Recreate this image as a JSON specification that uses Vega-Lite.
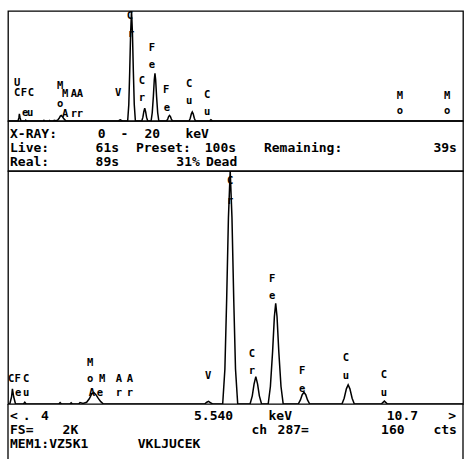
{
  "$schema": "https://vega.github.io/schema/vega-lite/v6.json",
  "background": "white",
  "padding": {"left": 7, "top": 10, "right": 3, "bottom": 0},
  "spacing": 0,
  "bounds": "flush",
  "config": {
    "view": {"stroke": "black", "strokeWidth": 1.3},
    "axis": {"disable": true},
    "concat": {"spacing": 0}
  },
  "datasets": {
    "spectrum": [
      {"e": 0, "c": 0}, {"e": 0.44, "c": 0}, {"e": 0.48, "c": 60}, {"e": 0.5, "c": 130}, {"e": 0.53, "c": 60}, {"e": 0.57, "c": 0},
      {"e": 0.75, "c": 0}, {"e": 0.78, "c": 15}, {"e": 0.81, "c": 0},
      {"e": 1.55, "c": 0}, {"e": 1.58, "c": 12}, {"e": 1.61, "c": 0},
      {"e": 1.8, "c": 0}, {"e": 1.83, "c": 10}, {"e": 1.86, "c": 0},
      {"e": 2.0, "c": 0}, {"e": 2.03, "c": 12}, {"e": 2.1, "c": 5}, {"e": 2.18, "c": 15}, {"e": 2.24, "c": 45}, {"e": 2.3, "c": 90}, {"e": 2.34, "c": 100}, {"e": 2.39, "c": 80}, {"e": 2.44, "c": 50}, {"e": 2.5, "c": 20}, {"e": 2.56, "c": 0},
      {"e": 4.85, "c": 0}, {"e": 4.9, "c": 15}, {"e": 4.94, "c": 22}, {"e": 4.98, "c": 12}, {"e": 5.03, "c": 0},
      {"e": 5.26, "c": 0}, {"e": 5.31, "c": 300}, {"e": 5.35, "c": 900}, {"e": 5.39, "c": 1600}, {"e": 5.43, "c": 2000}, {"e": 5.47, "c": 1600}, {"e": 5.51, "c": 900}, {"e": 5.55, "c": 300}, {"e": 5.6, "c": 0},
      {"e": 5.88, "c": 0}, {"e": 5.93, "c": 70}, {"e": 5.97, "c": 170}, {"e": 6.01, "c": 235}, {"e": 6.05, "c": 170}, {"e": 6.09, "c": 70}, {"e": 6.14, "c": 0},
      {"e": 6.29, "c": 0}, {"e": 6.34, "c": 150}, {"e": 6.39, "c": 450}, {"e": 6.43, "c": 750}, {"e": 6.46, "c": 865}, {"e": 6.49, "c": 750}, {"e": 6.53, "c": 450}, {"e": 6.58, "c": 150}, {"e": 6.63, "c": 0},
      {"e": 6.97, "c": 0}, {"e": 7.02, "c": 35}, {"e": 7.06, "c": 80}, {"e": 7.1, "c": 100}, {"e": 7.14, "c": 80}, {"e": 7.18, "c": 35}, {"e": 7.23, "c": 0},
      {"e": 7.96, "c": 0}, {"e": 8.01, "c": 50}, {"e": 8.06, "c": 130}, {"e": 8.1, "c": 165}, {"e": 8.14, "c": 130}, {"e": 8.19, "c": 50}, {"e": 8.24, "c": 0},
      {"e": 8.85, "c": 0}, {"e": 8.92, "c": 25}, {"e": 8.99, "c": 0},
      {"e": 20, "c": 0}
    ],
    "topLabels": [
      {"e": 0.40, "c": 700, "t": "U"}, {"e": 0.40, "c": 509, "t": "C"}, {"e": 0.70, "c": 509, "t": "F"}, {"e": 1.01, "c": 509, "t": "C"},
      {"e": 0.75, "c": 145, "t": "e"}, {"e": 0.97, "c": 145, "t": "u"},
      {"e": 2.29, "c": 636, "t": "M"}, {"e": 2.51, "c": 491, "t": "M"}, {"e": 2.29, "c": 309, "t": "o"}, {"e": 2.51, "c": 127, "t": "A"},
      {"e": 2.90, "c": 491, "t": "A"}, {"e": 3.16, "c": 491, "t": "A"}, {"e": 2.90, "c": 127, "t": "r"}, {"e": 3.16, "c": 127, "t": "r"},
      {"e": 4.84, "c": 509, "t": "V"},
      {"e": 5.36, "c": 1910, "t": "C"}, {"e": 5.41, "c": 1582, "t": "r"},
      {"e": 5.89, "c": 727, "t": "C"}, {"e": 5.89, "c": 418, "t": "r"},
      {"e": 6.33, "c": 1327, "t": "F"}, {"e": 6.33, "c": 1018, "t": "e"},
      {"e": 6.95, "c": 564, "t": "F"}, {"e": 6.99, "c": 236, "t": "e"},
      {"e": 7.96, "c": 673, "t": "C"}, {"e": 7.96, "c": 364, "t": "u"},
      {"e": 8.75, "c": 473, "t": "C"}, {"e": 8.75, "c": 164, "t": "u"},
      {"e": 17.23, "c": 455, "t": "M"}, {"e": 17.23, "c": 182, "t": "o"},
      {"e": 19.30, "c": 455, "t": "M"}, {"e": 19.30, "c": 182, "t": "o"}
    ],
    "lowLabels": [
      {"e": 0.47, "c": 215, "t": "C"}, {"e": 0.62, "c": 215, "t": "F"}, {"e": 0.81, "c": 215, "t": "C"},
      {"e": 0.63, "c": 94, "t": "e"}, {"e": 0.81, "c": 94, "t": "u"},
      {"e": 2.26, "c": 352, "t": "M"}, {"e": 2.26, "c": 215, "t": "o"}, {"e": 2.53, "c": 215, "t": "M"},
      {"e": 2.30, "c": 94, "t": "A"}, {"e": 2.48, "c": 94, "t": "e"},
      {"e": 2.91, "c": 215, "t": "A"}, {"e": 2.91, "c": 94, "t": "r"}, {"e": 3.16, "c": 215, "t": "A"}, {"e": 3.16, "c": 94, "t": "r"},
      {"e": 4.93, "c": 240, "t": "V"},
      {"e": 5.43, "c": 1914, "t": "C"}, {"e": 5.43, "c": 1743, "t": "r"},
      {"e": 5.92, "c": 429, "t": "C"}, {"e": 5.92, "c": 283, "t": "r"},
      {"e": 6.38, "c": 1073, "t": "F"}, {"e": 6.38, "c": 927, "t": "e"},
      {"e": 7.06, "c": 283, "t": "F"}, {"e": 7.06, "c": 129, "t": "e"},
      {"e": 8.05, "c": 395, "t": "C"}, {"e": 8.05, "c": 240, "t": "u"},
      {"e": 8.91, "c": 249, "t": "C"}, {"e": 8.91, "c": 94, "t": "u"}
    ],
    "info": [
      {"col": 0.18, "row": 1, "t": "X-RAY:"}, {"col": 7.9, "row": 1, "t": "0"}, {"col": 9.9, "row": 1, "t": "-"}, {"col": 12.0, "row": 1, "t": "20"}, {"col": 15.6, "row": 1, "t": "keV"},
      {"col": 0.18, "row": 2, "t": "Live:"}, {"col": 7.7, "row": 2, "t": "61s"}, {"col": 11.25, "row": 2, "t": "Preset:"}, {"col": 17.3, "row": 2, "t": "100s"}, {"col": 22.5, "row": 2, "t": "Remaining:"}, {"col": 37.4, "row": 2, "t": "39s"},
      {"col": 0.18, "row": 3, "t": "Real:"}, {"col": 7.7, "row": 3, "t": "89s"}, {"col": 14.8, "row": 3, "t": "31%"}, {"col": 17.4, "row": 3, "t": "Dead"}
    ],
    "footer": [
      {"col": 0.18, "row": 1, "t": "<"}, {"col": 1.3, "row": 1, "t": "."}, {"col": 2.9, "row": 1, "t": "4"}, {"col": 16.35, "row": 1, "t": "5.540"}, {"col": 22.9, "row": 1, "t": "keV"}, {"col": 33.3, "row": 1, "t": "10.7"}, {"col": 38.7, "row": 1, "t": ">"},
      {"col": 0.18, "row": 2, "t": "FS="}, {"col": 4.8, "row": 2, "t": "2K"}, {"col": 21.4, "row": 2, "t": "ch"}, {"col": 23.7, "row": 2, "t": "287="}, {"col": 32.8, "row": 2, "t": "160"}, {"col": 37.4, "row": 2, "t": "cts"},
      {"col": 0.18, "row": 3, "t": "MEM1:VZ5K1"}, {"col": 11.4, "row": 3, "t": "VKLJUCEK"}
    ],
    "edges": [{"col": 0}, {"col": 40}]
  },
  "vconcat": [
    {
      "width": 455, "height": 110,
      "layer": [
        {
          "data": {"name": "spectrum"},
          "mark": {"type": "line", "color": "black", "strokeWidth": 1.5, "clip": true},
          "encoding": {
            "x": {"field": "e", "type": "quantitative", "scale": {"domain": [0, 20], "nice": false}},
            "y": {"field": "c", "type": "quantitative", "scale": {"domain": [0, 2000], "nice": false}}
          }
        },
        {
          "data": {"name": "topLabels"},
          "mark": {"type": "text", "font": "DejaVu Sans Mono", "fontSize": 10.5, "fontWeight": "bold", "color": "black", "align": "center", "baseline": "middle", "clip": true},
          "encoding": {
            "x": {"field": "e", "type": "quantitative", "scale": {"domain": [0, 20], "nice": false}},
            "y": {"field": "c", "type": "quantitative", "scale": {"domain": [0, 2000], "nice": false}},
            "text": {"field": "t"}
          }
        }
      ]
    },
    {
      "width": 455, "height": 50,
      "data": {"name": "info"},
      "mark": {"type": "text", "font": "DejaVu Sans Mono", "fontSize": 13, "fontWeight": "bold", "color": "black", "align": "left", "baseline": "middle", "clip": true},
      "encoding": {
        "x": {"field": "col", "type": "quantitative", "scale": {"domain": [0, 40], "nice": false}},
        "y": {"field": "row", "type": "quantitative", "scale": {"domain": [0.071, 3.643], "reverse": true, "nice": false, "zero": false}},
        "text": {"field": "t"}
      }
    },
    {
      "width": 455, "height": 233,
      "layer": [
        {
          "data": {"name": "spectrum"},
          "mark": {"type": "line", "color": "black", "strokeWidth": 1.5, "clip": true},
          "encoding": {
            "x": {"field": "e", "type": "quantitative", "scale": {"domain": [0.4, 10.7], "nice": false, "zero": false}},
            "y": {"field": "c", "type": "quantitative", "scale": {"domain": [0, 2000], "nice": false}}
          }
        },
        {
          "data": {"name": "lowLabels"},
          "mark": {"type": "text", "font": "DejaVu Sans Mono", "fontSize": 10.5, "fontWeight": "bold", "color": "black", "align": "center", "baseline": "middle", "clip": true},
          "encoding": {
            "x": {"field": "e", "type": "quantitative", "scale": {"domain": [0.4, 10.7], "nice": false, "zero": false}},
            "y": {"field": "c", "type": "quantitative", "scale": {"domain": [0, 2000], "nice": false}},
            "text": {"field": "t"}
          }
        }
      ]
    },
    {
      "width": 455, "height": 55,
      "view": {"stroke": null},
      "layer": [
        {
          "data": {"name": "footer"},
          "mark": {"type": "text", "font": "DejaVu Sans Mono", "fontSize": 13, "fontWeight": "bold", "color": "black", "align": "left", "baseline": "middle", "clip": true},
          "encoding": {
            "x": {"field": "col", "type": "quantitative", "scale": {"domain": [0, 40], "nice": false}},
            "y": {"field": "row", "type": "quantitative", "scale": {"domain": [0.143, 4.07], "reverse": true, "nice": false, "zero": false}},
            "text": {"field": "t"}
          }
        },
        {
          "data": {"name": "edges"},
          "mark": {"type": "rule", "color": "black", "strokeWidth": 1.3},
          "encoding": {
            "x": {"field": "col", "type": "quantitative", "scale": {"domain": [0, 40], "nice": false}}
          }
        }
      ]
    }
  ]
}
